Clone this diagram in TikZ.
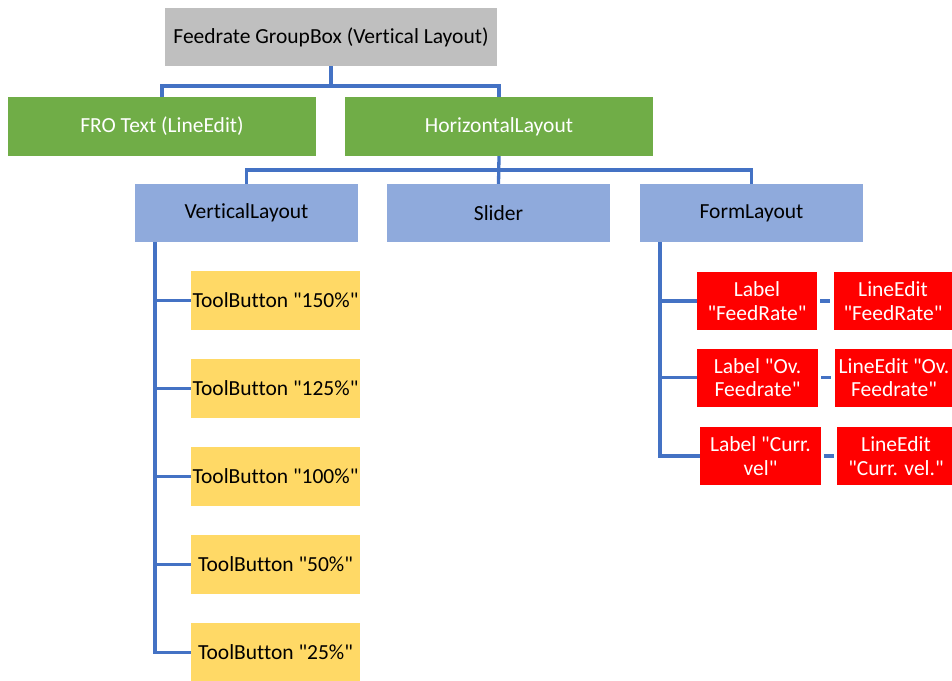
\documentclass[tikz,border=0pt]{standalone}
\usepackage{fontspec}
\setmainfont{Carlito}[Ligatures={TeXReset,NoCommon}]
\definecolor{linkblue}{HTML}{4472C4}
\definecolor{boxgray}{HTML}{BFBFBF}
\definecolor{boxgreen}{HTML}{70AD47}
\definecolor{boxblue}{HTML}{8FAADC}
\definecolor{boxyellow}{HTML}{FFD966}
\definecolor{boxred}{HTML}{FF0000}
\begin{document}
\begin{tikzpicture}[x=1pt,y=-1pt,
  box/.style={rectangle, inner sep=0pt, align=center, font=\fontsize{21.5}{24}\selectfont},
  graybox/.style={box, fill=boxgray, text=black, minimum width=332pt, minimum height=58pt},
  greenbox/.style={box, fill=boxgreen, text=white, minimum width=308pt, minimum height=59pt},
  bluebox/.style={box, fill=boxblue, text=black, minimum width=223pt, minimum height=58pt},
  yellowbox/.style={box, fill=boxyellow, text=black, minimum width=169pt, minimum height=59pt},
  redbox/.style={box, fill=boxred, text=white, minimum height=58pt, font=\fontsize{21.5}{23.5}\selectfont},
  conn/.style={draw=linkblue, line width=3.3pt}
]
\useasboundingbox (0,0) rectangle (952,680);

% top level
\node[graybox] (gb) at (331,37) {Feedrate GroupBox (Vertical Layout)};
\node[greenbox] (fro) at (162,126.5) {FRO Text (LineEdit)};
\node[greenbox] (hl) at (499,126.5) {HorizontalLayout};

% layouts inside the horizontal layout
\node[bluebox] (vl) at (246.5,213) {VerticalLayout};
\node[bluebox] (sl) at (498.5,213) {Slider};
\node[bluebox] (fl) at (751.5,213) {FormLayout};

% tool buttons
\node[yellowbox] (tb1) at (275.5,300.5) {ToolButton "150\%"};
\node[yellowbox] (tb2) at (275.5,388.5) {ToolButton "125\%"};
\node[yellowbox] (tb3) at (275.5,476.5) {ToolButton "100\%"};
\node[yellowbox] (tb4) at (275.5,564.5) {ToolButton "50\%"};
\node[yellowbox] (tb5) at (275.5,652.5) {ToolButton "25\%"};

% form rows
\node[redbox, minimum width=120pt] (lb1) at (757,301) {Label\\"FeedRate"};
\node[redbox, minimum width=119pt] (le1) at (893,301) {LineEdit\\"FeedRate"};
\node[redbox, minimum width=121pt] (lb2) at (757.5,377.5) {Label "Ov.\\Feedrate"};
\node[redbox, minimum width=119pt] (le2) at (894,377.5) {LineEdit "Ov.\\Feedrate"};
\node[redbox, minimum width=121pt] (lb3) at (760.5,456) {Label "Curr.\\vel"};
\node[redbox, minimum width=118pt] (le3) at (896,456) {LineEdit\\"Curr. vel."};

% connectors
\coordinate (j1) at (331,86);
\coordinate (j2) at (499,170);
\coordinate (vtop) at (155,242);
\coordinate (ftop) at (660,242);

\draw[conn] (gb.south) -- (j1);
\draw[conn] (fro.north) |- (j1) -| (hl.north);
\draw[conn] (hl.south) -- (sl.north);
\draw[conn] (vl.north) |- (j2) -| (fl.north);

\draw[conn] (vtop) |- (tb5.west);
\foreach \t in {tb1,tb2,tb3,tb4}
  \draw[conn] (vtop |- \t.west) -- (\t.west);

\draw[conn] (ftop) |- (lb3.west);
\foreach \t in {lb1,lb2}
  \draw[conn] (ftop |- \t.west) -- (\t.west);

\draw[conn, shorten <=3pt, shorten >=3pt] (lb1.east) -- (le1.west);
\draw[conn, shorten <=3pt, shorten >=3pt] (lb2.east) -- (le2.west);
\draw[conn, shorten <=3pt, shorten >=3pt] (lb3.east) -- (le3.west);
\end{tikzpicture}
\end{document}
